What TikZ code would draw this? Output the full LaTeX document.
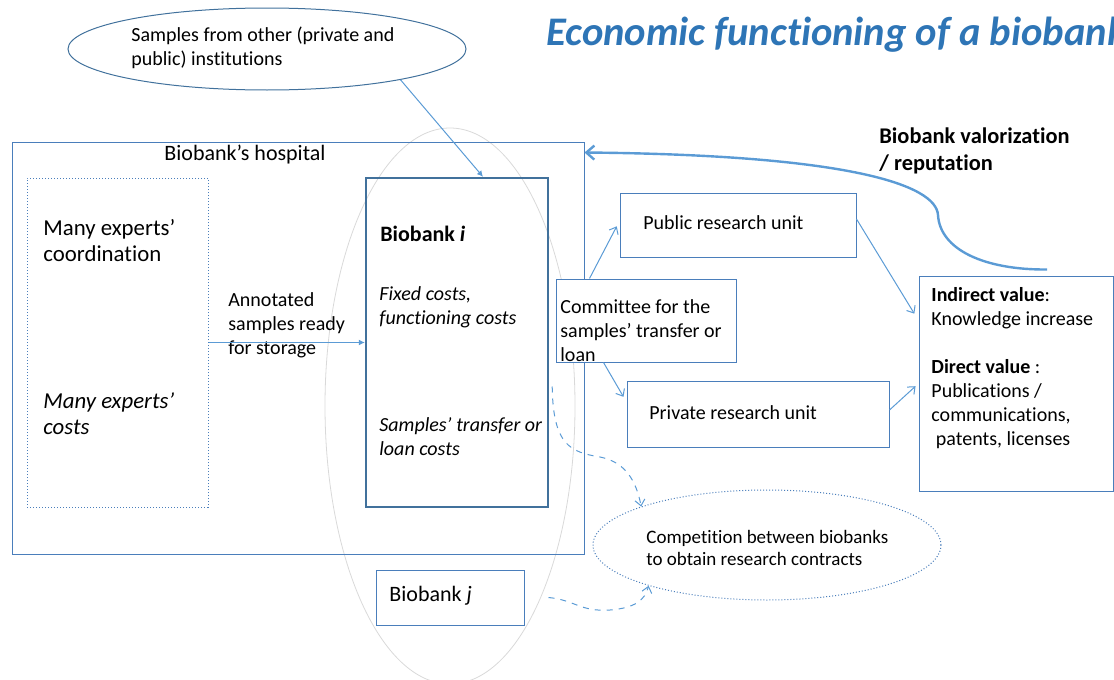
\documentclass[tikz,border=0pt]{standalone}
\usepackage{fontspec}
\setmainfont{Carlito}[Ligatures = NoCommon]
\usetikzlibrary{arrows.meta,shapes.geometric,calc}

\definecolor{boxblue}{HTML}{4A7EBB}
\definecolor{lineblue}{HTML}{5B9BD5}
\definecolor{darkblue}{HTML}{41719C}
\definecolor{titleblue}{HTML}{2E75B6}

\begin{document}
\begin{tikzpicture}[x = 0.5pt, y = -0.5pt,
  every node/.style = {inner sep = 0pt, font = \fontsize{10}{12}\selectfont},
  box/.style        = {draw = boxblue, line width = 0.5pt},
  txt/.style        = {anchor = west, align = left},
  bigtxt/.style     = {txt, font = \fontsize{11.4}{13}\selectfont},
  link/.style       = {draw = lineblue, line width = 0.5pt, -{Straight Barb[length=3pt, width=5pt]}},
  feed/.style       = {draw = lineblue, line width = 0.5pt, -{Latex[length=3pt, width=3pt]}},
  rival/.style      = {link, dashed}]

% The picture is 1114 x 680 (one unit = 0.5pt), then clipped to it
\coordinate (clipping area) at (1114, 680);
\useasboundingbox (0,0) rectangle (clipping area);
\clip (0,0) rectangle (clipping area);

% Title (runs off the right edge)
\node[txt, text = titleblue, font = \fontsize{20.3}{24}\bfseries\itshape\selectfont]
  (title) at (546, 35) {Economic functioning of a biobank};

% Large grey ellipse round the biobanks
\node[ellipse, draw = black!15, line width = 0.4pt, minimum width = 125pt, minimum height = 278pt]
  (group) at (450, 406) {};

% Boxes and ellipses
\node[box, minimum width = 286pt, minimum height = 206pt] (hosp) at (298, 348) {};
\node[draw = boxblue, densely dotted, line width = 0.5pt, minimum width = 90.5pt, minimum height = 164.5pt]
  (experts) at (117.5, 342.5) {};
\node[draw = darkblue, line width = 1.2pt, minimum width = 91pt, minimum height = 164.5pt]
  (bbi) at (457, 342.5) {};
\node[box, fill = white, minimum width = 90pt, minimum height = 41.5pt] (committee) at (646, 320.5) {};
\node[box, minimum width = 118pt, minimum height = 32pt] (pub) at (738, 225) {};
\node[box, minimum width = 131pt, minimum height = 33pt] (priv) at (758, 414) {};
\node[box, minimum width = 97pt, minimum height = 107.5pt] (value) at (1016, 383.5) {};
\node[box, minimum width = 74pt, minimum height = 27.5pt] (bbj) at (450, 597.5) {};
\node[ellipse, draw = darkblue, line width = 0.5pt, minimum width = 199pt, minimum height = 41pt]
  (samples) at (267, 49) {};
\node[ellipse, draw = boxblue, densely dotted, line width = 0.5pt, minimum width = 174pt, minimum height = 55pt]
  (comp) at (767, 545) {};

% Texts
\node[txt] (samplestxt) at (131, 48) {Samples from other (private and\\public) institutions};
\node[anchor = center, font = \fontsize{11}{13}\selectfont] (hosptxt) at (245, 155) {Biobank’s hospital};
\node[bigtxt] (coord) at (43, 241) {Many experts’\\coordination};
\node[bigtxt, font = \fontsize{11.4}{13}\itshape\selectfont] (expcost) at (43, 414) {Many experts’\\costs};
\node[txt] (annot) at (228, 325) {Annotated\\samples ready\\for storage};
\node[txt, font = \fontsize{11}{13}\bfseries\selectfont] (bbitxt) at (380, 234) {Biobank \textit{i}};
\node[txt, font = \fontsize{10}{12}\itshape\selectfont] (fixed) at (379, 307) {Fixed costs,\\functioning costs};
\node[txt, font = \fontsize{10}{12}\itshape\selectfont] (loan) at (379, 437) {Samples’ transfer or\\loan costs};
\node[txt] (comtxt) at (560, 331) {Committee for the\\samples’ transfer or\\loan};
\node[txt] (pubtxt) at (643, 223) {Public research unit};
\node[txt] (privtxt) at (649, 413) {Private research unit};
\node[txt] (valtxt) at (931, 368.5)
  {\textbf{Indirect value}:\\Knowledge increase\\[12pt]\textbf{Direct value} :\\Publications /\\communications,\\ \ patents, licenses};
\node[txt, font = \fontsize{11.2}{13.5}\bfseries\selectfont] (valor) at (879, 151) {Biobank valorization\\/ reputation};
\node[txt, font = \fontsize{9.5}{11}\selectfont] (comptxt) at (646, 548) {Competition between biobanks\\to obtain research contracts};
\node[txt, font = \fontsize{11}{13}\selectfont] (bbjtxt) at (389, 596) {Biobank \textit{j}};

% Connectors
\draw[feed] (samples.-13) -- ([xshift = 13pt] bbi.north);
\draw[feed] (experts.east) -- (bbi.west);
\draw[link, shorten > = 3pt] ([xshift = 17pt] committee.north west) -- ([yshift = 2pt] pub.west);
\draw[link, shorten > = 3pt] ([xshift = 24pt] committee.south west) -- ([yshift = 6pt] priv.west);
\draw[link, shorten > = 4pt] ([yshift = 3pt] pub.east) -- ([yshift = 31.5pt] value.west);
\draw[link, shorten > = 2pt] ([yshift = 2pt] priv.east) -- (value.west);

% Reputation feedback
\coordinate (repstart) at ([xshift = 15.5pt, yshift = 3pt] value.north);
\coordinate (repend)   at ([yshift = -5.5pt] hosp.north east);
\draw[link, line width = 1.2pt, -{Straight Barb[length=4pt, width=7pt]}]
  (repstart) .. controls (985, 270) and (940, 250) .. (938, 215)
             .. controls (936, 185) and (850, 155) .. (repend);

% Competition
\coordinate (bbiout) at ([xshift = 1.5pt, yshift = -22pt] bbi.east);
\coordinate (bbjout) at ([xshift = 12pt] bbj.east);
\draw[rival] (bbiout) .. controls (553, 445) and (570, 452) .. (600, 457)
                      .. controls (625, 462) and (636, 480) .. (comp.163);
\draw[rival] (bbjout) .. controls (575, 600) and (580, 612) .. (610, 610)
                      .. controls (635, 608) and (645, 600) .. (comp.199);

\end{tikzpicture}
\end{document}
